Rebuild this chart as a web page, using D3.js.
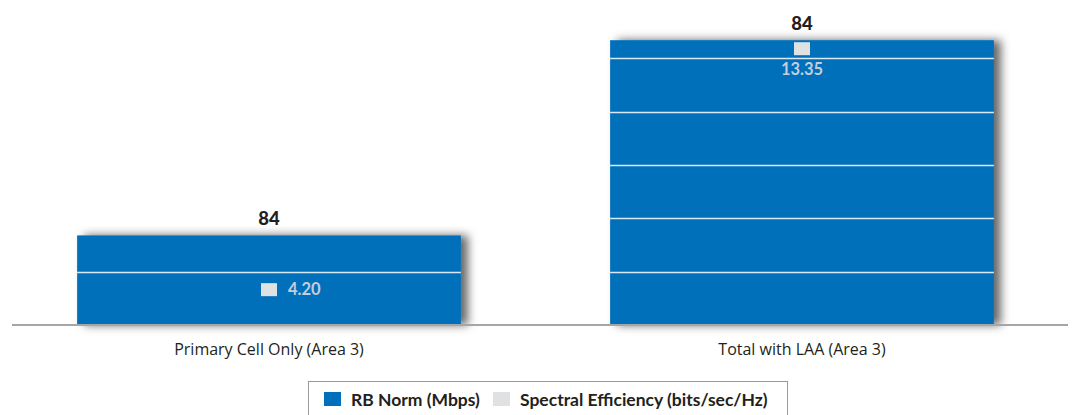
<!DOCTYPE html>
<html><head><meta charset="utf-8">
<script src="https://cdn.jsdelivr.net/npm/d3@7"></script>
<style>body{margin:0;background:#fff}svg{display:block}</style>
</head><body>
<svg id="chart" width="1073" height="415"></svg>
<script>
const categories = ["Primary Cell Only (Area 3)", "Total with LAA (Area 3)"];
const rbNorm = [84, 84];
const spectralEff = [4.20, 13.35];
const gridTicks = [2.5, 5, 7.5, 10, 12.5];
const legendLabels = ["RB Norm (Mbps)", "Spectral Efficiency (bits/sec/Hz)"];

const svg = d3.select("#chart");
const blue = "#0070BA", gray = "#E0E1E3";

const defs = svg.append("defs");
const f = defs.append("filter").attr("id","sh").attr("x","-10%").attr("y","-10%").attr("width","130%").attr("height","130%");
f.append("feDropShadow").attr("dx",7).attr("dy",0).attr("stdDeviation",5).attr("flood-color","#000").attr("flood-opacity",0.6);

const x = d3.scaleBand().domain(categories).range([2.5, 1068.5]).paddingInner(0.28).paddingOuter(0.14);
const y = d3.scaleLinear().domain([0, 15]).range([325, 5]);

// bars
svg.append("g").selectAll("rect").data(categories).join("rect")
  .attr("x", d => x(d)).attr("width", x.bandwidth())
  .attr("y", (d,i) => y(spectralEff[i])).attr("height", (d,i) => y(0) - y(spectralEff[i]))
  .attr("fill", blue).attr("filter","url(#sh)");

// white gridlines clipped to bars
const cp = defs.append("clipPath").attr("id","barclip");
cp.selectAll("rect").data(categories).join("rect")
  .attr("x", d => x(d)).attr("width", x.bandwidth())
  .attr("y", (d,i) => y(spectralEff[i])).attr("height", (d,i) => y(0) - y(spectralEff[i]));
svg.append("g").attr("clip-path","url(#barclip)").selectAll("line").data(gridTicks).join("line")
  .attr("x1", 0).attr("x2", 1073).attr("y1", d => Math.round(y(d))+0.5).attr("y2", d => Math.round(y(d))+0.5)
  .attr("stroke","#fff").attr("stroke-width",1.5).attr("stroke-opacity",0.85);

// axis line
const xAxis = d3.axisBottom(x).tickSize(0).tickPadding(19);
const ax = svg.append("g").attr("transform","translate(0,325)").call(xAxis);
ax.select(".domain").attr("d","M12,0H1068").attr("stroke","#A6A6A6").attr("stroke-width",2);
ax.selectAll("text").attr("font-family","'Open Sans',sans-serif").attr("font-size",16).attr("fill","#231F20");

// RB Norm labels above bars
svg.append("g").selectAll("text").data(categories).join("text")
  .attr("x", d => x(d) + x.bandwidth()/2).attr("y", (d,i) => y(spectralEff[i]) - 10)
  .attr("text-anchor","middle").attr("font-family","Lato, sans-serif").attr("font-weight","900")
  .attr("font-size",18.5).attr("fill","#231F20").text((d,i) => rbNorm[i]);

// spectral efficiency markers + labels
const se = svg.append("g");
categories.forEach((c,i) => {
  const cx = x(c) + x.bandwidth()/2;
  const top = y(spectralEff[i]);
  const h = y(0) - top;
  if (h < 150) {
    const my = top + h*0.6;
    se.append("rect").attr("x", cx-8).attr("y", my-6).attr("width",16).attr("height",13).attr("fill",gray);
    se.append("text").attr("x", cx+19).attr("y", my+6).attr("font-family","Lato, sans-serif").attr("font-weight","bold")
      .attr("font-size",16.5).attr("fill","#C6CDD9").text(spectralEff[i].toFixed(2));
  } else {
    se.append("rect").attr("x", cx-8).attr("y", top+2).attr("width",16).attr("height",13).attr("fill",gray);
    se.append("text").attr("x", cx).attr("y", top+35).attr("text-anchor","middle").attr("font-family","Lato,sans-serif").attr("font-weight","bold")
      .attr("font-size",16.5).attr("fill","#C6CDD9").text(spectralEff[i].toFixed(2));
  }
});

// legend
const lg = svg.append("g");
lg.append("rect").attr("x",308.5).attr("y",381.5).attr("width",479).attr("height",40).attr("fill","#fff").attr("stroke","#999").attr("stroke-width",1);
const items = [{label:legendLabels[0], color:blue, x:324},{label:legendLabels[1], color:gray, x:493}];
items.forEach(it => {
  lg.append("rect").attr("x",it.x).attr("y",392).attr("width",17).attr("height",14).attr("fill",it.color);
  lg.append("text").attr("x",it.x+27).attr("y",405.5).attr("font-family","Lato, sans-serif").attr("font-weight","bold")
    .attr("font-size",17.5).attr("fill","#231F20").text(it.label);
});
</script>
</body></html>
